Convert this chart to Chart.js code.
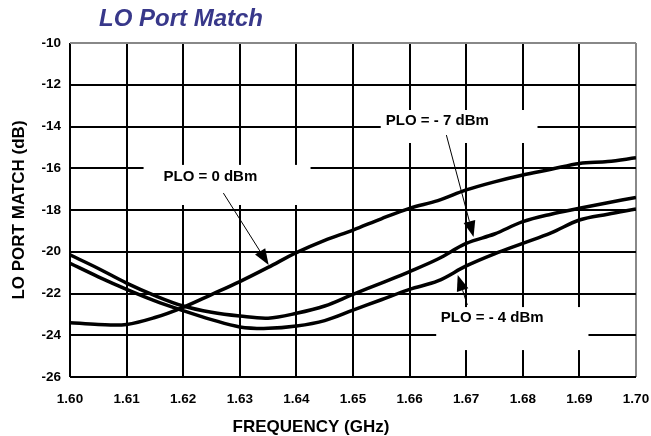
<!DOCTYPE html>
<html>
<head>
<meta charset="utf-8">
<script src="https://cdn.jsdelivr.net/npm/chart.js@4.4.1/dist/chart.umd.min.js"></script>
<style>
  html, body { margin: 0; padding: 0; background: #fff; }
  #wrap { width: 651px; height: 436px; }
</style>
</head>
<body>
<div id="wrap"><canvas id="myChart" width="651" height="436"></canvas></div>
<script>
// frequency points (GHz)
const freqs = [1.600, 1.605, 1.610, 1.615, 1.620, 1.625, 1.630, 1.635, 1.640, 1.645, 1.650,
               1.655, 1.660, 1.665, 1.670, 1.675, 1.680, 1.685, 1.690, 1.695, 1.700];
// LO port match (dB) per LO drive
const plo0 = [-23.40, -23.48, -23.48, -23.15, -22.66, -22.05, -21.43, -20.75, -20.04, -19.45, -18.96,
              -18.42, -17.92, -17.55, -17.04, -16.65, -16.32, -16.05, -15.77, -15.68, -15.50];
const plo7 = [-20.15, -20.80, -21.50, -22.10, -22.60, -22.90, -23.08, -23.18, -22.95, -22.60, -22.04,
              -21.50, -20.95, -20.35, -19.60, -19.15, -18.56, -18.20, -17.92, -17.65, -17.40];
const plo4 = [-20.55, -21.20, -21.80, -22.35, -22.82, -23.25, -23.60, -23.67, -23.56, -23.30, -22.80,
              -22.30, -21.80, -21.40, -20.68, -20.10, -19.60, -19.10, -18.48, -18.20, -17.95];
const yTicks = [-26, -24, -22, -20, -18, -16, -14, -12, -10];
const xTicks = [1.60, 1.61, 1.62, 1.63, 1.64, 1.65, 1.66, 1.67, 1.68, 1.69, 1.70];

// callouts in data units: label centre, white box, arrow start -> tip
const callouts = [
    { text: 'PLO = 0 dBm',   tx: 1.6248, ty: -16.42, box: [1.6130, 1.6425, -15.84, -17.76], from: [1.6271, -17.19], to: [1.6351, -20.63] },
    { text: 'PLO = - 7 dBm', tx: 1.6649, ty: -13.74, box: [1.6549, 1.6826, -13.21, -14.79], from: [1.6665, -14.41], to: [1.6713, -19.29] },
    { text: 'PLO = - 4 dBm', tx: 1.6746, ty: -23.17, box: [1.6647, 1.6916, -22.65, -24.71], from: [1.6702, -22.55], to: [1.6685, -21.11] }
];

const FONT = "'Liberation Sans', Arial, sans-serif";

function pts(ys) {
    return freqs.map((f, i) => ({ x: f, y: ys[i] }));
}

const calloutPlugin = {
    id: 'callouts',
    beforeDatasetsDraw(chart) {
        const c = chart.ctx, xs = chart.scales.x, ys = chart.scales.y;
        c.save();
        c.fillStyle = '#fff';
        callouts.forEach(o => {
            const x1 = xs.getPixelForValue(o.box[0]), x2 = xs.getPixelForValue(o.box[1]);
            const y1 = ys.getPixelForValue(o.box[2]), y2 = ys.getPixelForValue(o.box[3]);
            c.fillRect(x1, y1, x2 - x1, y2 - y1);
        });
        c.restore();
    },
    afterDatasetsDraw(chart) {
        const c = chart.ctx, xs = chart.scales.x, ys = chart.scales.y;
        c.save();
        callouts.forEach(o => {
            c.fillStyle = '#000';
            c.font = 'bold 15px ' + FONT;
            c.textAlign = 'center';
            c.textBaseline = 'middle';
            c.fillText(o.text, xs.getPixelForValue(o.tx), ys.getPixelForValue(o.ty));

            const ax = xs.getPixelForValue(o.from[0]), ay = ys.getPixelForValue(o.from[1]);
            const bx = xs.getPixelForValue(o.to[0]), by = ys.getPixelForValue(o.to[1]);
            const ang = Math.atan2(by - ay, bx - ax);
            const hl = 16, hw = 6;
            c.strokeStyle = '#000';
            c.lineWidth = 1;
            c.beginPath();
            c.moveTo(ax, ay);
            c.lineTo(bx - Math.cos(ang) * hl, by - Math.sin(ang) * hl);
            c.stroke();
            c.beginPath();
            c.moveTo(bx, by);
            c.lineTo(bx - Math.cos(ang) * hl - Math.sin(ang) * hw, by - Math.sin(ang) * hl + Math.cos(ang) * hw);
            c.lineTo(bx - Math.cos(ang) * hl + Math.sin(ang) * hw, by - Math.sin(ang) * hl - Math.cos(ang) * hw);
            c.closePath();
            c.fill();
        });

        // titles
        c.fillStyle = '#38388a';
        c.font = 'italic bold 24px ' + FONT;
        c.textAlign = 'center';
        c.textBaseline = 'middle';
        c.fillText('LO Port Match', 181, 19);

        c.fillStyle = '#000';
        c.font = 'bold 17px ' + FONT;
        c.fillText('FREQUENCY (GHz)', 311, 427);
        c.translate(19, 210);
        c.rotate(-Math.PI / 2);
        c.fillText('LO PORT MATCH (dB)', 0, 0);
        c.restore();
    }
};

const ctx = document.getElementById('myChart').getContext('2d');
const myChart = new Chart(ctx, {
    type: 'line',
    data: {
        datasets: [
            { label: 'PLO = 0 dBm', data: pts(plo0) },
            { label: 'PLO = -7 dBm', data: pts(plo7) },
            { label: 'PLO = -4 dBm', data: pts(plo4) }
        ].map(d => Object.assign(d, {
            borderColor: '#000',
            borderWidth: 3.5,
            pointRadius: 0,
            tension: 0.35,
            fill: false
        }))
    },
    options: {
        responsive: false,
        animation: false,
        layout: { padding: { top: 43, right: 15, left: 0, bottom: 0 } },
        scales: {
            x: {
                type: 'linear',
                min: 1.6,
                max: 1.7,
                afterFit: s => { s.height = 59; s.paddingLeft = 0; s.paddingRight = 0; },
                afterBuildTicks: s => { s.ticks = xTicks.map(v => ({ value: v })); },
                grid: {
                    drawTicks: false,
                    lineWidth: 2,
                    color: c => c.tick && c.tick.value >= 1.7 ? '#888' : '#000'
                },
                border: { display: false },
                ticks: {
                    padding: 14,
                    color: '#000',
                    font: { family: FONT, size: 13.5, weight: 'bold' },
                    callback: v => v.toFixed(2)
                }
            },
            y: {
                min: -26,
                max: -10,
                afterFit: s => { s.width = 70; },
                afterBuildTicks: s => { s.ticks = yTicks.map(v => ({ value: v })); },
                grid: {
                    drawTicks: false,
                    lineWidth: 2,
                    color: c => c.tick && c.tick.value >= -10 ? '#888' : '#000'
                },
                border: { display: false },
                ticks: {
                    padding: 9,
                    color: '#000',
                    font: { family: FONT, size: 13.5, weight: 'bold' }
                }
            }
        },
        plugins: {
            legend: { display: false },
            tooltip: { enabled: false }
        }
    },
    plugins: [calloutPlugin]
});
</script>
</body>
</html>
